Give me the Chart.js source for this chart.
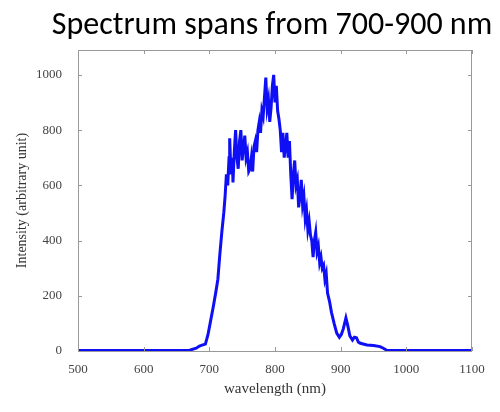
<!DOCTYPE html>
<html>
<head>
<meta charset="utf-8">
<script src="https://cdn.jsdelivr.net/npm/chart.js@4"></script>
<style>
  html, body { margin: 0; padding: 0; background: #fff; }
  #wrap { position: relative; width: 500px; height: 412px; }
  #title {
    position: absolute; left: 0; width: 544px; top: 4px;
    text-align: center; font-family: Carlito, "Open Sans", sans-serif;
    font-size: 32px; color: #000; line-height: 40px; white-space: nowrap;
  }
  canvas { position: absolute; left: 0; top: 0; }
</style>
</head>
<body>
<div id="wrap">
  <canvas id="spectrumChart" width="500" height="412"></canvas>
  <div id="title">Spectrum spans from 700-900 nm</div>
</div>
<script>
// wavelength (nm)
const wavelengths = [
  500, 600, 650, 670, 680, 685, 690, 694, 698, 702, 706, 710, 713, 716, 719, 722,
  724, 726, 728, 730, 731, 733, 735, 736, 738, 740, 742, 744, 746, 748, 750, 752,
  754, 756, 758, 760, 762, 764, 766, 768, 770, 772, 774, 776, 778, 780, 782, 784,
  786, 788, 790, 792, 794, 796, 798, 800, 802, 804, 806, 808, 810, 812, 814, 816,
  818, 820, 822, 824, 826, 828, 830, 832, 834, 836, 838, 840, 842, 844, 846, 848,
  850, 852, 854, 856, 858, 860, 862, 864, 866, 868, 870, 872, 874, 876, 878, 880,
  883, 886, 890, 894, 898, 901, 904, 908, 911, 914, 918, 921, 924, 927, 930, 940,
  950, 960, 965, 970, 980, 1000, 1050, 1100
];
// intensity (arbitrary unit)
const intensity = [
  2, 2, 2, 3, 10, 18, 22, 25, 60, 110, 160, 215, 260, 350, 430, 500,
  560, 640, 600, 700, 770, 640, 700, 610, 720, 800, 700, 660, 760, 800, 690, 740,
  780, 700, 720, 650, 660, 700, 650, 740, 760, 720, 800, 830, 790, 870, 850, 920,
  990, 880, 910, 830, 880, 960, 1000, 900, 960, 870, 840, 800, 720, 790, 700, 740,
  790, 700, 760, 640, 550, 640, 690, 600, 620, 520, 560, 620, 530, 560, 480, 510,
  440, 470, 420, 400, 340, 400, 430, 360, 380, 320, 340, 300, 310, 260, 280, 210,
  180, 140, 100, 65, 50, 60, 80, 120, 90, 55, 40, 50, 48, 32, 28, 22,
  20, 16, 10, 3, 2, 2, 2, 2
];
const xTicks = [500, 600, 700, 800, 900, 1000, 1100];
const yTicks = [0, 200, 400, 600, 800, 1000];

const points = wavelengths.map((w, i) => ({ x: w, y: intensity[i] }));

// frame around the plot with small inward tick marks (matlab style)
const framePlugin = {
  id: 'frame',
  afterDatasetsDraw(chart) {
    const { ctx, chartArea: a, scales } = chart;
    ctx.save();
    ctx.strokeStyle = '#999';
    ctx.lineWidth = 1;
    ctx.strokeRect(a.left + 0.5, a.top + 0.5, a.right - a.left - 1, a.bottom - a.top);
    ctx.beginPath();
    xTicks.forEach(v => {
      const px = Math.round(scales.x.getPixelForValue(v)) + 0.5;
      ctx.moveTo(px, a.bottom); ctx.lineTo(px, a.bottom - 4);
      ctx.moveTo(px, a.top); ctx.lineTo(px, a.top + 4);
    });
    yTicks.forEach(v => {
      const py = Math.round(scales.y.getPixelForValue(v)) + 0.5;
      ctx.moveTo(a.left, py); ctx.lineTo(a.left + 4, py);
      ctx.moveTo(a.right, py); ctx.lineTo(a.right - 4, py);
    });
    ctx.stroke();
    ctx.restore();
  }
};

const serif = '"Liberation Serif", "Times New Roman", serif';

const ctx = document.getElementById('spectrumChart').getContext('2d');
const spectrumChart = new Chart(ctx, {
  type: 'line',
  data: {
    datasets: [{
      label: 'Intensity',
      data: points,
      borderColor: '#0f0ff5',
      borderWidth: 3,
      pointRadius: 0,
      tension: 0,
      fill: false
    }]
  },
  options: {
    responsive: false,
    animation: false,
    layout: { padding: { left: 10, top: 50, right: 28, bottom: 10 } },
    plugins: {
      legend: { display: false },
      tooltip: { enabled: false }
    },
    scales: {
      x: {
        type: 'linear',
        min: 500,
        max: 1100,
        grid: { display: false },
        border: { display: false },
        afterBuildTicks: scale => { scale.ticks = xTicks.map(v => ({ value: v })); },
        afterFit: scale => { scale.height = 51; },
        ticks: {
          color: '#444',
          padding: 3,
          maxRotation: 0,
          callback: v => String(v),
          font: { family: serif, size: 13 }
        },
        title: {
          display: true,
          text: 'wavelength (nm)',
          color: '#333',
          padding: { top: 0 },
          font: { family: serif, size: 15 }
        }
      },
      y: {
        min: 0,
        max: 1090,
        grid: { display: false },
        border: { display: false },
        afterBuildTicks: scale => { scale.ticks = yTicks.map(v => ({ value: v })); },
        afterFit: scale => { scale.width = 68; },
        ticks: {
          color: '#444',
          padding: 8,
          callback: v => String(v),
          font: { family: serif, size: 13 }
        },
        title: {
          display: true,
          text: 'Intensity (arbitrary unit)',
          color: '#333',
          padding: { bottom: 4 },
          font: { family: serif, size: 14 }
        }
      }
    }
  },
  plugins: [framePlugin]
});
</script>
</body>
</html>
